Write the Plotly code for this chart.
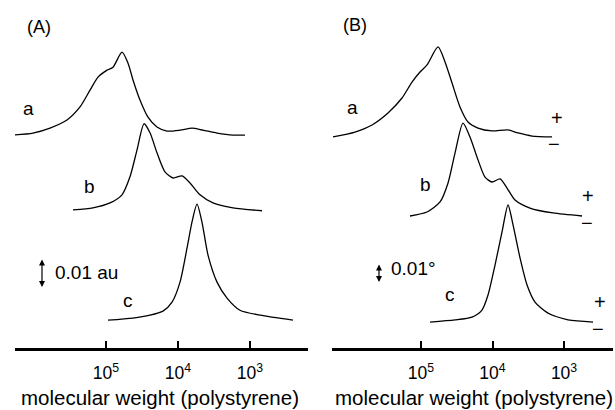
import plotly.graph_objects as go

W, H = 615, 410

# ---------------- data ----------------
# Panel A: absorbance (au) above each curve's baseline vs log10(molecular weight)
A_a_logmw = [6.292, 6.014, 5.778, 5.542, 5.361, 5.222, 5.111, 4.986, 4.903, 4.778, 4.694, 4.625,
             4.528, 4.417, 4.292, 4.153, 3.972, 3.806, 3.653, 3.458, 3.236, 3.069]
A_a_abs = [0.0, 0.0007, 0.0024, 0.0052, 0.0097, 0.0155, 0.0200, 0.0224, 0.0234, 0.0286, 0.0248, 0.0190,
           0.0121, 0.0062, 0.0028, 0.0014, 0.0017, 0.0024, 0.0017, 0.0007, 0.0, 0.0]
A_b_logmw = [5.458, 5.181, 4.944, 4.778, 4.667, 4.569, 4.472, 4.389, 4.292, 4.181, 4.069, 3.944,
             3.833, 3.694, 3.514, 3.236, 2.833]
A_b_abs = [0.0, 0.0007, 0.0024, 0.0052, 0.0114, 0.0207, 0.0297, 0.0266, 0.0197, 0.0131, 0.0110, 0.0117,
           0.0093, 0.0052, 0.0024, 0.0007, -0.0003]
A_c_logmw = [4.972, 4.625, 4.389, 4.208, 4.083, 3.972, 3.875, 3.806, 3.736, 3.667, 3.583, 3.458,
             3.319, 3.139, 2.861, 2.403]
A_c_abs = [0.0, 0.0007, 0.0017, 0.0031, 0.0062, 0.0131, 0.0248, 0.0338, 0.0400, 0.0338, 0.0224, 0.0131,
           0.0076, 0.0034, 0.0017, 0.0]
A_offsets = [0.0948, 0.0690, 0.0310]          # au, baseline of a, b, c

# Panel B: ellipticity (deg) above each baseline
B_a_logmw = [6.231, 5.923, 5.685, 5.462, 5.266, 5.126, 5.014, 4.916, 4.762, 4.664, 4.566, 4.455,
             4.343, 4.203, 4.007, 3.783, 3.643, 3.448, 3.168]
B_a_deg = [0.0, 0.0026, 0.0063, 0.0126, 0.0205, 0.0289, 0.0342, 0.0379, 0.0474, 0.0395, 0.0284, 0.0158,
           0.0079, 0.0047, 0.0032, 0.0037, 0.0021, 0.0005, 0.0]
B_b_logmw = [5.154, 4.916, 4.734, 4.622, 4.524, 4.413, 4.315, 4.217, 4.105, 4.007, 3.895, 3.797,
             3.685, 3.476, 3.154, 2.748]
B_b_deg = [0.0, 0.0021, 0.0074, 0.0174, 0.0332, 0.0489, 0.0416, 0.0311, 0.0205, 0.0179, 0.0195, 0.0147,
           0.0084, 0.0042, 0.0016, 0.0]
B_c_logmw = [4.874, 4.524, 4.287, 4.147, 4.063, 3.965, 3.867, 3.783, 3.713, 3.615, 3.517, 3.406,
             3.224, 2.944, 2.594]
B_c_deg = [0.0, 0.0011, 0.0026, 0.0063, 0.0142, 0.0300, 0.0474, 0.0616, 0.0511, 0.0337, 0.0195, 0.0105,
           0.0047, 0.0011, 0.0]
B_offsets = [0.1437, 0.1021, 0.0463]          # deg, baseline of a, b, c

curve_labels = ["a", "b", "c"]
tick_vals = [1e5, 1e4, 1e3]
tick_text = ["10<sup>5</sup>", "10<sup>4</sup>", "10<sup>3</sup>"]
x_title = "molecular weight (polystyrene)"

# ---------------- figure ----------------
FONT = "Liberation Sans, Arial, Helvetica, sans-serif"
fig = go.Figure()

def add(logmw, vals, off, xa, ya):
    fig.add_trace(go.Scatter(
        x=[10 ** v for v in logmw], y=[off + v for v in vals],
        mode="lines", line=dict(color="black", width=1.3, shape="spline", smoothing=0.7),
        xaxis=xa, yaxis=ya, showlegend=False, hoverinfo="skip"))

for lm, v, o in zip([A_a_logmw, A_b_logmw, A_c_logmw], [A_a_abs, A_b_abs, A_c_abs], A_offsets):
    add(lm, v, o, "x", "y")
for lm, v, o in zip([B_a_logmw, B_b_logmw, B_c_logmw], [B_a_deg, B_b_deg, B_c_deg], B_offsets):
    add(lm, v, o, "x2", "y2")

def px(x):
    return x / W

def py(y):
    return 1 - y / H

axis_common = dict(type="log", tickvals=tick_vals, ticktext=tick_text,
                   showline=True, linecolor="black", linewidth=3,
                   ticks="inside", ticklen=7, tickwidth=1.5, tickcolor="black",
                   showgrid=False, zeroline=False, anchor="free", position=py(349),
                   tickfont=dict(family=FONT, size=17.5, color="black"),
                   ticklabelstandoff=7, fixedrange=True)

fig.update_layout(
    width=W, height=H, margin=dict(l=0, r=0, t=0, b=0),
    paper_bgcolor="white", plot_bgcolor="white",
    xaxis=dict(domain=[px(15), px(308)], range=[6.2639, 2.1944], **axis_common),
    xaxis2=dict(domain=[px(332), px(613)], range=[6.2448, 2.315], **axis_common),
    yaxis=dict(domain=[0, 1], range=[0, H / 2900], visible=False, anchor="x", fixedrange=True),
    yaxis2=dict(domain=[0, 1], range=[0, H / 1900], visible=False, anchor="x2", fixedrange=True),
    font=dict(family=FONT, color="black"),
)

def text(t, x, y, size=18, xanchor="center"):
    fig.add_annotation(text=t, x=px(x), y=py(y), xref="paper", yref="paper",
                       showarrow=False, xanchor=xanchor, yanchor="middle",
                       font=dict(family=FONT, size=size, color="black"))

# panel letters
text("(A)", 39, 27, 18)
text("(B)", 355, 25, 18)
# curve labels
for lab, (x, y) in zip(curve_labels, [(28, 108), (89, 187), (128, 300)]):
    text(lab, x, y, 19)
for lab, (x, y) in zip(curve_labels, [(352, 107), (425, 185), (450, 294)]):
    text(lab, x, y, 19)
# axis titles
text(x_title, 160, 397, 20.5)
text(x_title, 474, 397, 20.5)
# scale bars
text("0.01 au", 53, 272, 19, "left")
text("0.01°", 389, 268, 19, "left")

def dbl_arrow(x, y1, y2):
    fig.add_annotation(x=px(x), y=py(y2), xref="paper", yref="paper",
                       ax=0, ay=-(y2 - y1), axref="pixel", ayref="pixel",
                       showarrow=True, arrowside="end+start", arrowhead=2,
                       arrowsize=1.0, arrowwidth=1.2, arrowcolor="black", text="")

dbl_arrow(42, 258, 287)
dbl_arrow(379, 263, 282)

# +/- polarity marks
for x, y in [(557, 118), (588, 196), (600, 302)]:
    text("+", x, y, 20)
for x, y in [(554, 144), (587, 223), (598, 329)]:
    text("−", x, y, 20)

fig.write_html("out.html", config={"displayModeBar": False},
               post_script="document.body.style.margin='0';document.body.style.padding='0';")
